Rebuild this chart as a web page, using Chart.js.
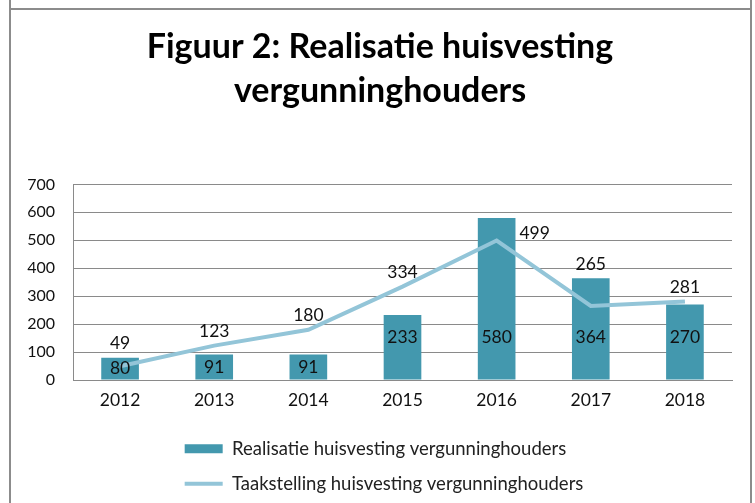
<!DOCTYPE html>
<html>
<head>
<meta charset="utf-8">
<script src="https://cdn.jsdelivr.net/npm/chart.js@4/dist/chart.umd.min.js"></script>
<style>
  html, body { margin: 0; padding: 0; background: #fff; }
  #wrap { width: 755px; height: 503px; }
</style>
</head>
<body>
<div id="wrap"><canvas id="chart" width="755" height="503"></canvas></div>
<script>
const years = ['2012', '2013', '2014', '2015', '2016', '2017', '2018'];
const realisatie = [80, 91, 91, 233, 580, 364, 270];
const taakstelling = [49, 123, 180, 334, 499, 265, 281];
const yTicks = [0, 100, 200, 300, 400, 500, 600, 700];

// where the target labels sit relative to their point
const targetLabelPlacement = ['top', 'top', 'top', 'top', 'right', 'top', 'top'];

const fontFamily = 'Lato, "Open Sans", sans-serif';

// grey frame around the chart object
const framePlugin = {
  id: 'frame',
  beforeDraw(chart) {
    const ctx = chart.ctx;
    ctx.save();
    ctx.strokeStyle = '#8c8c8c';
    ctx.lineWidth = 2;
    ctx.beginPath();
    ctx.moveTo(10, 0); ctx.lineTo(10, chart.height);
    ctx.moveTo(751, 0); ctx.lineTo(751, chart.height);
    ctx.moveTo(10, 9); ctx.lineTo(751, 9);
    ctx.stroke();
    ctx.restore();
  }
};

// title centred on the frame, legend rows left aligned on one edge
const blockShift = {
  id: 'blockShift',
  afterLayout(chart) {
    const tb = chart.titleBlock;
    if (tb) { tb.left += 14; tb.right += 14; }
    const lg = chart.legend;
    if (!lg || !lg.lineWidths) return;
    const w = Math.max(...lg.lineWidths);
    lg.lineWidths = lg.lineWidths.map(() => w);
    lg.left += 18;
    lg.right += 18;
  }
};

const valueLabels = {
  id: 'valueLabels',
  afterDatasetsDraw(chart) {
    const ctx = chart.ctx;
    const bars = chart.getDatasetMeta(0).data;
    const points = chart.getDatasetMeta(1).data;
    ctx.save();
    ctx.fillStyle = '#111';
    ctx.font = '17.5px ' + fontFamily;
    ctx.textAlign = 'center';
    ctx.textBaseline = 'middle';
    bars.forEach((bar, i) => {
      const h = bar.base - bar.y;
      const y = h > 60 ? bar.base - 42 : bar.y + h / 2;
      ctx.fillText(realisatie[i], bar.x, y);
    });
    points.forEach((pt, i) => {
      const bar = bars[i];
      if (targetLabelPlacement[i] === 'right') {
        ctx.textAlign = 'left';
        ctx.fillText(taakstelling[i], bar.x + bar.width / 2 + 4, pt.y - 7);
      } else {
        ctx.textAlign = 'center';
        ctx.fillText(taakstelling[i], pt.x, Math.min(pt.y, bar.y) - 14);
      }
    });
    ctx.restore();
  }
};

new Chart(document.getElementById('chart').getContext('2d'), {
  data: {
    labels: years,
    datasets: [{
      type: 'bar',
      label: 'Realisatie huisvesting vergunninghouders',
      data: realisatie,
      backgroundColor: '#4398ae',
      categoryPercentage: 0.4,
      barPercentage: 1,
      pointStyle: 'rect',
      order: 2
    }, {
      type: 'line',
      label: 'Taakstelling huisvesting vergunninghouders',
      data: taakstelling,
      borderColor: '#93c5d8',
      backgroundColor: '#93c5d8',
      borderWidth: 4,
      pointRadius: 0,
      tension: 0,
      pointStyle: 'line',
      order: 1
    }]
  },
  options: {
    responsive: false,
    animation: false,
    layout: { padding: { left: 0, right: 23, top: 0, bottom: 0 } },
    plugins: {
      tooltip: { enabled: false },
      title: {
        display: true,
        text: ['Figuur 2: Realisatie huisvesting', 'vergunninghouders'],
        color: '#000',
        font: { family: fontFamily, size: 34, weight: 'bold', lineHeight: 1.3 },
        padding: { top: 25, bottom: 71 }
      },
      legend: {
        position: 'bottom',
        labels: {
          color: '#222',
          font: { family: fontFamily, size: 18.5 },
          usePointStyle: true,
          pointStyleWidth: 38,
          boxHeight: 9,
          padding: 16.5,
          sort: (a, b) => a.datasetIndex - b.datasetIndex
        }
      }
    },
    scales: {
      x: {
        afterFit(scale) { scale.height = 43; },
        grid: { display: false, drawTicks: false },
        border: { display: true, color: '#8a8a8a' },
        ticks: { color: '#111', font: { family: fontFamily, size: 17.5 }, padding: 10 }
      },
      y: {
        min: 0,
        max: 700,
        afterBuildTicks(scale) { scale.ticks = yTicks.map(v => ({ value: v })); },
        afterFit(scale) { scale.width = 73; },
        grid: { color: '#8a8a8a', drawTicks: false },
        border: { display: true, color: '#8a8a8a' },
        ticks: { color: '#111', font: { family: fontFamily, size: 16 }, padding: 18 }
      }
    }
  },
  plugins: [framePlugin, blockShift, valueLabels]
});
</script>
</body>
</html>
